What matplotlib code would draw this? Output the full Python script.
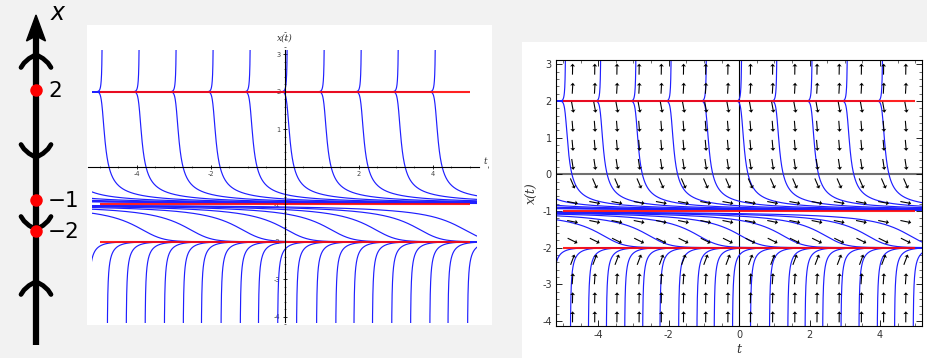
import numpy as np
import matplotlib
matplotlib.use("Agg")
import matplotlib.pyplot as plt
from matplotlib.patches import Rectangle, Polygon
from matplotlib.ticker import MultipleLocator

plt.rcParams['axes.unicode_minus'] = False

# ODE  x' = (x - 2) (x + 1)^2 (x + 2)
roots = [2, -1, -2]
powers = [1, 2, 1]

# solution curves, each pinned at one (t, x) point
split_t0 = [-10, -9, -8, -7, -6, -5, -4, -3, -2, -1, 0, 1, 2, 3, 4]
split_gap = 0.05                      # start just above / below x = 2
s_curve_t = [-4.2, -2.9, -1.5, -0.3, 0.9, 2.1, 3.3, 4.5]
s_curve_x = -1.5
low_t = [-5.28, -4.78, -4.27, -3.76, -3.24, -2.73, -2.24, -1.71, -1.19, -0.70,
         -0.18, 0.33, 0.87, 1.39, 1.88, 2.38, 2.90, 3.41, 3.93, 4.42, 4.95]
low_x = -3.5

# direction field grid (right panel)
field_t = [-4.73, -4.1, -3.47, -2.84, -2.21, -1.58, -0.95, -0.32,
           0.32, 0.95, 1.58, 2.21, 2.84, 3.47, 4.1, 4.73]
field_x = [-3.89, -3.37, -2.85, -2.33, -1.81, -1.29, -0.77, -0.25,
           0.27, 0.79, 1.31, 1.83, 2.35, 2.87]

t_range = (-5.2, 5.2)
red_range = (-5.0, 5.0)

BLUE = '#1f1fff'
RED = '#ff0a0a'


def f(x):
    out = np.ones_like(x)
    for r, p in zip(roots, powers):
        out = out * (x - r) ** p
    return out


def trace(t0, x0, sign, t_lo=-11.0, t_hi=5.3, dt=0.002):
    t = np.array(t0, float)
    x = np.array(x0, float)
    ts, xs = [t.copy()], [x.copy()]
    with np.errstate(all='ignore'):
        while True:
            live = np.isfinite(x) & (t >= t_lo) & (t <= t_hi)
            if not live.any():
                break
            h = sign * np.minimum(dt, 0.02 / (np.abs(f(x)) + 1e-9))
            h = np.where(live, h, 0.0)
            k1 = f(x)
            k2 = f(x + h / 2 * k1)
            k3 = f(x + h / 2 * k2)
            k4 = f(x + h * k3)
            xn = x + h / 6 * (k1 + 2 * k2 + 2 * k3 + k4)
            xn = np.where(np.abs(xn) > 6, np.nan, xn)
            x = np.where(live, xn, np.nan)
            t = t + h
            ts.append(t.copy())
            xs.append(x.copy())
    return np.array(ts), np.array(xs)


# anchors for all curves
a_t = (split_t0 + split_t0 + s_curve_t + low_t)
a_x = ([2 + split_gap] * len(split_t0) + [2 - split_gap] * len(split_t0)
       + [s_curve_x] * len(s_curve_t) + [low_x] * len(low_t))

tb, xb = trace(a_t, a_x, -1)
tf, xf = trace(a_t, a_x, 1)
curves = []
for j in range(len(a_t)):
    tt = np.concatenate([tb[::-1, j], tf[1:, j]])
    xx = np.concatenate([xb[::-1, j], xf[1:, j]])
    ok = np.isfinite(xx)
    curves.append((tt[ok], xx[ok]))


def draw_solutions(ax, x_lo, x_hi):
    clip = Rectangle((t_range[0], x_lo), t_range[1] - t_range[0], x_hi - x_lo,
                     transform=ax.transData, facecolor='none', edgecolor='none')
    ax.add_patch(clip)
    for tt, xx in curves:
        ln, = ax.plot(tt, xx, color=BLUE, lw=0.85, zorder=2)
        ln.set_clip_path(clip)
    ax.hlines(roots, red_range[0], red_range[1], color=RED, lw=1.5,
              alpha=0.9, zorder=3)


W, H = 928, 358
fig = plt.figure(figsize=(W / 100, H / 100), dpi=100, facecolor='#f2f2f2')

# white card behind the right panel
fig.patches.append(Rectangle((522 / W, 0), (W - 522) / W, (H - 42) / H,
                             transform=fig.transFigure, facecolor='white',
                             edgecolor='none', zorder=-1))

# ---------------- phase line ----------------
ax0 = fig.add_axes([0, 0, 87 / W, 1])
ax0.set_xlim(0, 87)
ax0.set_ylim(H, 0)
ax0.axis('off')
ax0.patch.set_alpha(0)

line_x = 36
phase_pos = {2: 90, -1: 200, -2: 231}
ax0.plot([line_x, line_x], [345, 36], color='black', lw=4.5,
         solid_capstyle='butt', zorder=1)
ax0.add_patch(Polygon([(line_x, 15), (line_x - 9.5, 41), (line_x, 36),
                       (line_x + 9.5, 41)], closed=True, color='black', zorder=2))
ax0.text(51, 13, 'x', fontsize=17, style='italic', ha='left', va='center',
         family='DejaVu Sans')

# chevrons: direction from the sign of x' between equilibria
chev_y = [61, 151, 223, 288]
probe = [3.0, 0.5, -1.5, -3.0]
cx = np.array([-15, -12, -7, 0, 7, 12, 15])
cy = np.array([13, 8.5, 4, 0, 4, 8.5, 13])
for yc, xp in zip(chev_y, probe):
    d = np.sign(f(np.array(xp)))
    ys = yc + (cy - 6.5) * d
    ax0.plot(line_x + cx, ys, color='black', lw=3.4, solid_capstyle='round',
             solid_joinstyle='round', zorder=2)

for r in roots:
    ax0.plot(line_x, phase_pos[r], 'o', color='#ff0000', ms=9, zorder=3,
             markeredgewidth=0)
    lab = str(r) if r >= 0 else '\u2212' + str(-r)
    ax0.text(48, phase_pos[r] + 1, lab, fontsize=15.5, ha='left', va='center',
             family='DejaVu Sans')

# ---------------- middle panel ----------------
ax1 = fig.add_axes([87 / W, (H - 325) / H, (492 - 87) / W, 300 / H])
ax1.set_facecolor('white')
ax1.set_xlim(-5.34, 5.60)
ax1.set_ylim(-4.22, 3.78)
draw_solutions(ax1, -4.17, 3.12)
for s in ['top', 'right']:
    ax1.spines[s].set_visible(False)
ax1.spines['left'].set_position(('data', 0))
ax1.spines['bottom'].set_position(('data', 0))
ax1.spines['left'].set_bounds(-4.15, 3.12)
ax1.spines['bottom'].set_bounds(-5.3, 5.25)
for s in ['left', 'bottom']:
    ax1.spines[s].set_linewidth(0.8)
    ax1.spines[s].set_zorder(5)
ax1.set_xticks([-4, -2, 2, 4])
ax1.set_yticks([-4, -3, -2, -1, 1, 2, 3])
ax1.xaxis.set_minor_locator(MultipleLocator(0.5))
ax1.yaxis.set_minor_locator(MultipleLocator(0.2))
ax1.tick_params(which='major', direction='inout', length=3, width=0.6,
                labelsize=4.8, labelcolor='#444444', pad=1.5)
ax1.tick_params(which='minor', direction='inout', length=1.6, width=0.4)
ax1.text(0, 3.43, 'x(t)', fontsize=6.5, style='italic', ha='center',
         va='center', family='DejaVu Serif', color='#333333')
ax1.text(5.41, 0.14, 't', fontsize=6.5, style='italic', ha='center',
         va='center', family='DejaVu Serif', color='#333333')

# ---------------- right panel ----------------
ax2 = fig.add_axes([556 / W, (H - 326) / H, (922 - 556) / W, (326 - 60) / H])
ax2.set_facecolor('white')
ax2.set_xlim(-5.2, 5.19)
ax2.set_ylim(-4.14, 3.12)
ax2.axhline(0, color='#707070', lw=1.5, zorder=1)
ax2.axvline(0, color='black', lw=0.8, zorder=1)
draw_solutions(ax2, -4.14, 3.12)

# unit-length arrows of (1, x')
bb = ax2.get_position()
sx = bb.width * W / (ax2.get_xlim()[1] - ax2.get_xlim()[0])
sy = bb.height * H / (ax2.get_ylim()[1] - ax2.get_ylim()[0])
TT, XX = np.meshgrid(field_t, field_x)
dxp = np.ones_like(XX) * sx
dyp = f(XX) * sy
nrm = np.hypot(dxp, dyp)
arrow_px = 11
U = arrow_px * dxp / nrm / sx
V = arrow_px * dyp / nrm / sy
ax2.quiver(TT, XX, U, V, angles='xy', scale_units='xy', scale=1,
           pivot='middle', units='dots', width=1.1, headwidth=4.5,
           headlength=2.6, headaxislength=2.3, color='black', zorder=4)

ax2.set_xticks([-4, -2, 0, 2, 4])
ax2.set_yticks([-4, -3, -2, -1, 0, 1, 2, 3])
ax2.xaxis.set_minor_locator(MultipleLocator(0.5))
ax2.yaxis.set_minor_locator(MultipleLocator(0.2))
ax2.tick_params(which='major', direction='in', top=True, right=True,
                length=4, width=0.6, labelsize=7, labelcolor='#333333', pad=3)
ax2.tick_params(which='minor', direction='in', top=True, right=True,
                length=2, width=0.4)
for s in ax2.spines.values():
    s.set_linewidth(0.8)
    s.set_zorder(5)
ax2.set_xlabel('t', fontsize=9, style='italic', family='DejaVu Serif',
               labelpad=2, color='#333333')
ax2.set_ylabel('x(t)', fontsize=9, style='italic', family='DejaVu Serif',
               labelpad=2, color='#333333')

fig.savefig('out.png', dpi=100, facecolor=fig.get_facecolor())
